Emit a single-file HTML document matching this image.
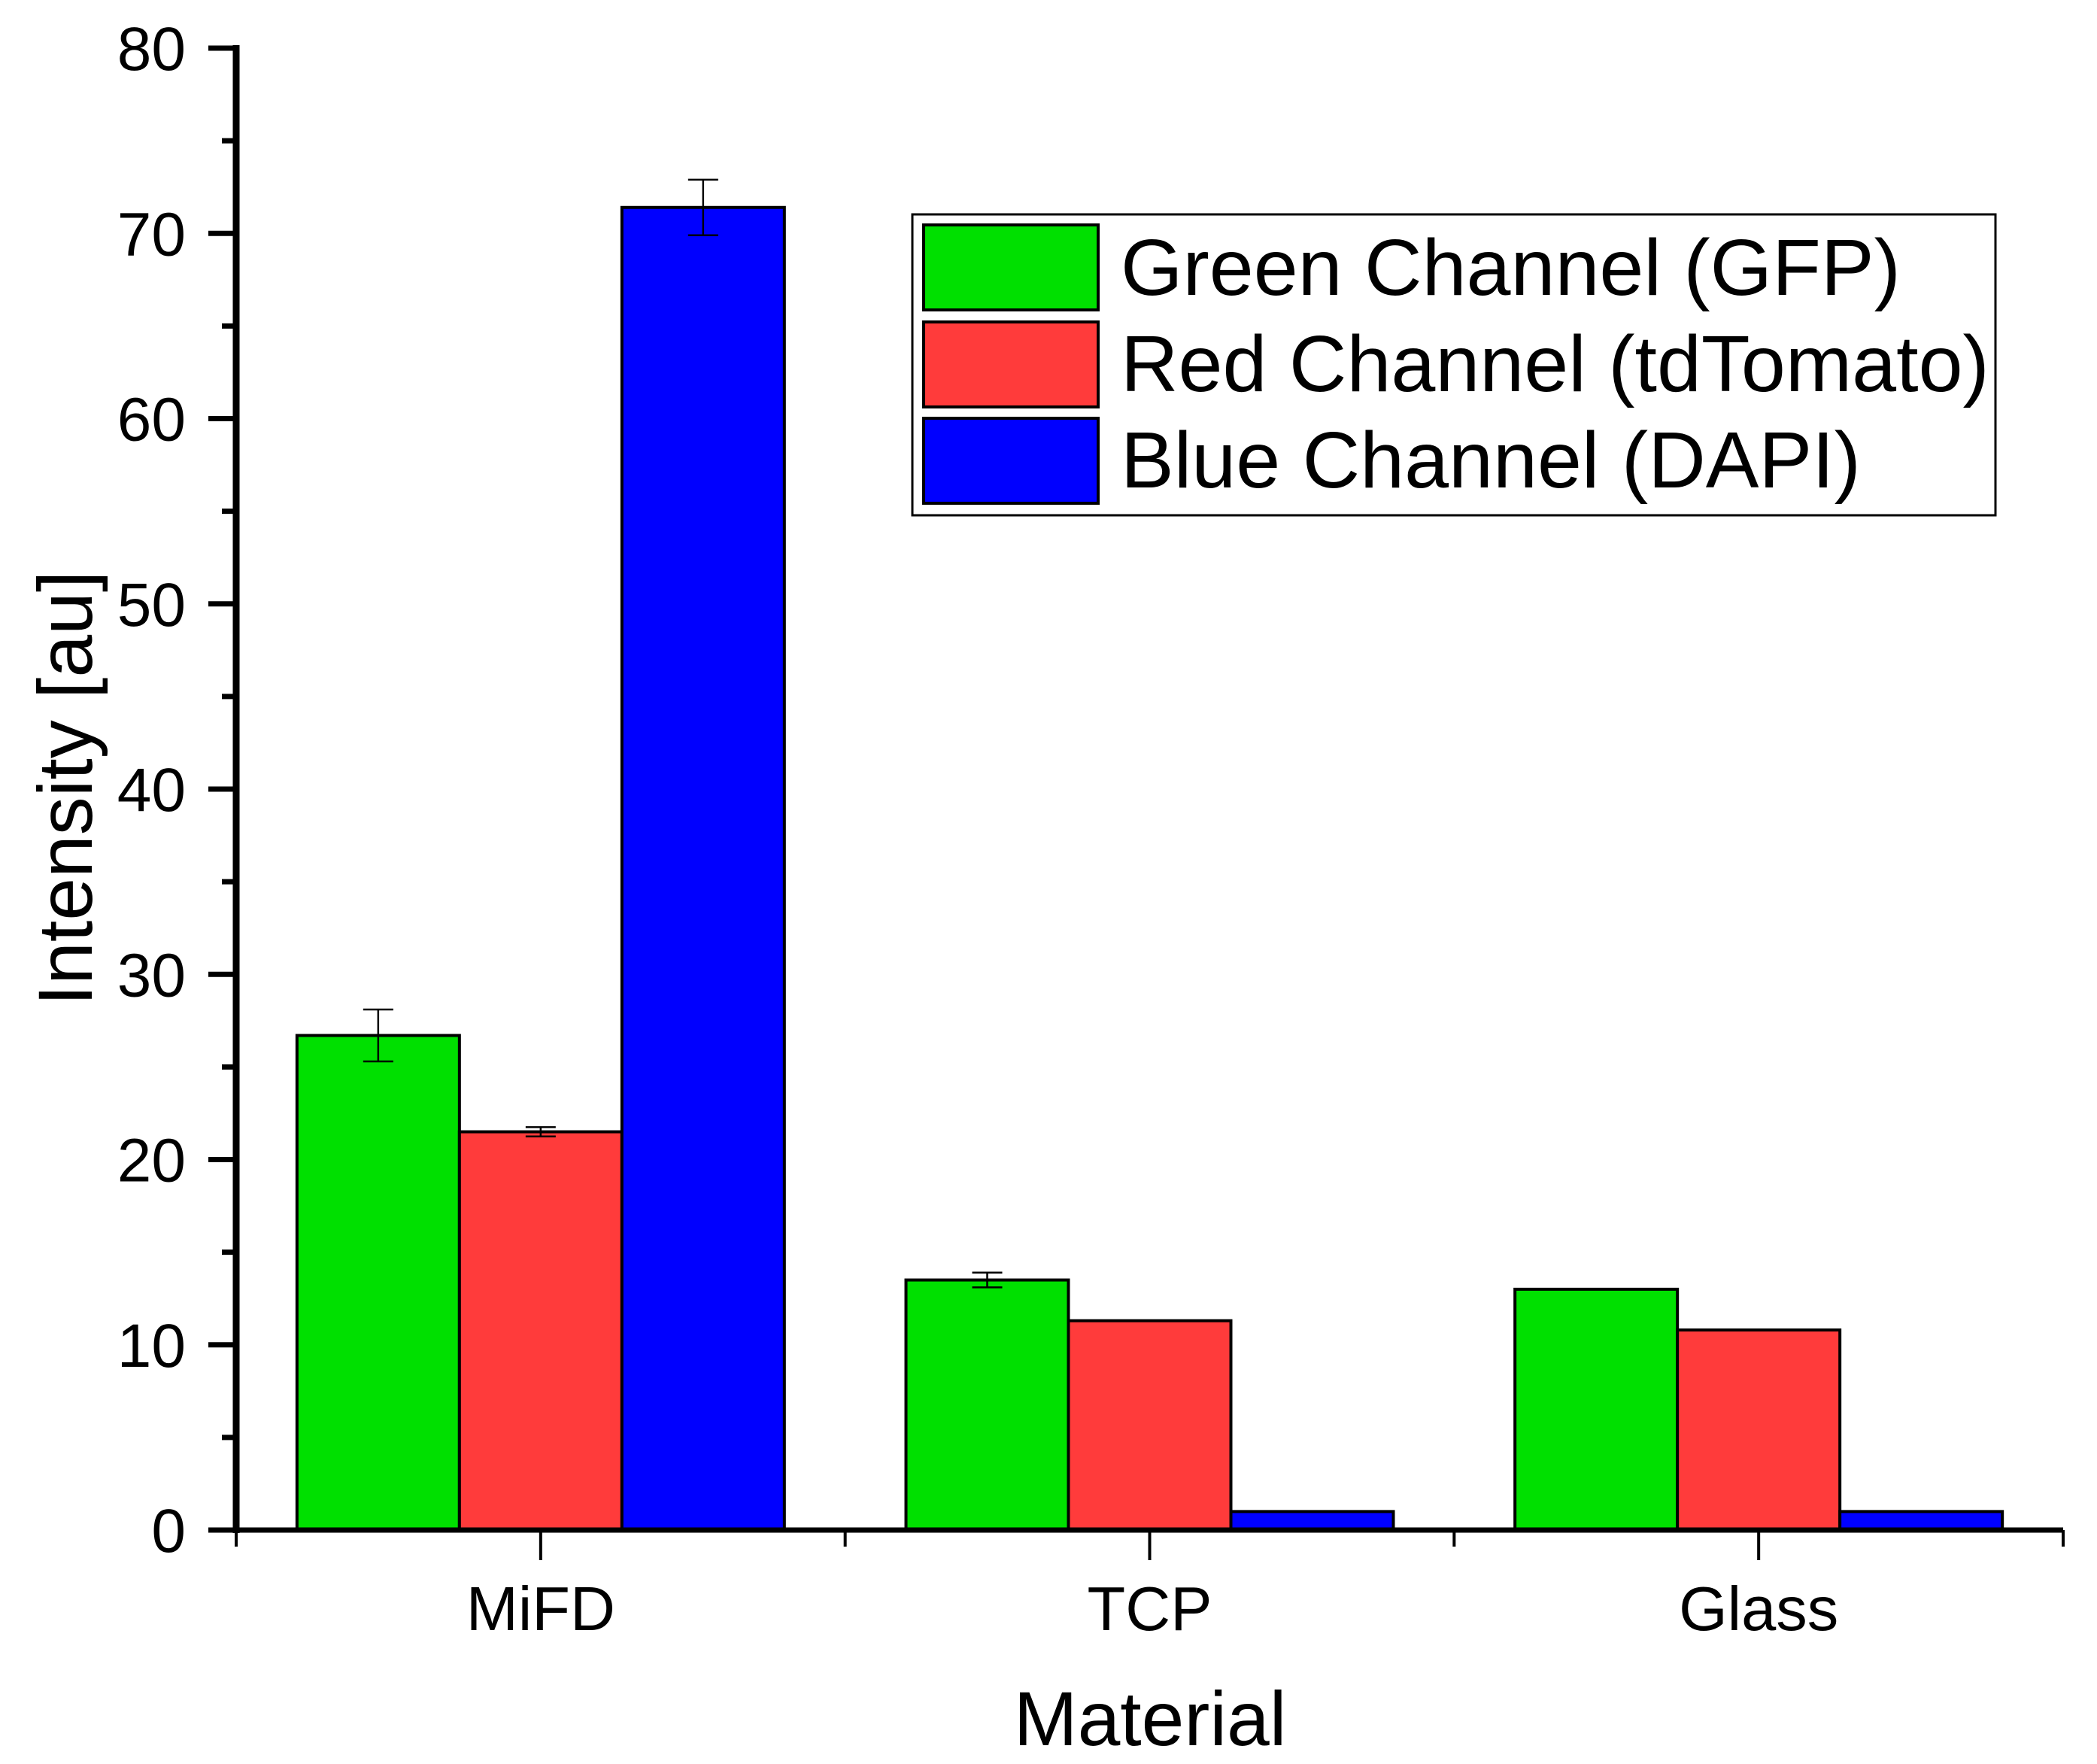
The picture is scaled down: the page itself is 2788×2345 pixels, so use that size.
<!DOCTYPE html>
<html><head><meta charset="utf-8"><style>
html,body{margin:0;padding:0;background:#fff;}
svg{display:block;font-family:"Liberation Sans",Arial,sans-serif;}
</style></head><body>
<svg id="chart" width="2788" height="2345" viewBox="0 0 2788 2345" xmlns="http://www.w3.org/2000/svg">
<g id="bars"></g>
<g id="axes"></g>
<text x="1529" y="2320" font-size="102" text-anchor="middle">Material</text>
<text transform="translate(122,1048) rotate(-90)" font-size="102" text-anchor="middle">Intensity [au]</text>
<g>
<rect x="1213" y="285" width="1440" height="400" fill="#fff" stroke="#000" stroke-width="3"/>
<rect x="1228" y="299" width="232" height="113" fill="#00e000" stroke="#000" stroke-width="4"/>
<rect x="1228" y="428" width="232" height="113" fill="#ff3b3b" stroke="#000" stroke-width="4"/>
<rect x="1228" y="556" width="232" height="113" fill="#0000ff" stroke="#000" stroke-width="4"/>
<text x="1490" y="392" font-size="106">Green Channel (GFP)</text>
<text x="1490" y="520" font-size="106">Red Channel (tdTomato)</text>
<text x="1490" y="648" font-size="106">Blue Channel (DAPI)</text>
</g>
</svg>
<script>
const categories = ["MiFD", "TCP", "Glass"];
const greenVals = [26.7, 13.5, 13.0];
const redVals = [21.5, 11.3, 10.8];
const blueVals = [71.4, 1.0, 1.0];
const greenErr = [1.4, 0.4, 0];
const redErr = [0.25, 0, 0];
const blueErr = [1.5, 0, 0];
const yTicks = [0, 10, 20, 30, 40, 50, 60, 70, 80];

const NS = "http://www.w3.org/2000/svg";
const Y0 = 2034, Y80 = 64, AX = 314, AXR = 2743;
function y(v){ return Y0 - (v/80)*(Y0 - Y80); }
const groupW = (AXR - AX)/3;
function xc(i){ return AX + groupW*(i+0.5); }
const bw = 216;
function mk(tag, attrs, parent){ const e=document.createElementNS(NS,tag); for(const k in attrs) e.setAttribute(k, attrs[k]); parent.appendChild(e); return e; }
const bars = document.getElementById('bars');
const axes = document.getElementById('axes');
const series = [[greenVals, greenErr, "#00e000", "green"], [redVals, redErr, "#ff3b3b", "red"], [blueVals, blueErr, "#0000ff", "blue"]];
categories.forEach((c, i) => {
  series.forEach((s, j) => {
    const v = s[0][i], x0 = xc(i) + (j - 1.5)*bw;
    const r = mk('rect', {x: x0, y: y(v), width: bw, height: y(0)-y(v), fill: s[2], stroke: "#000", "stroke-width": 4}, bars);
    
    
    const e = s[1][i];
    if (e > 0) {
      const cx = x0 + bw/2;
      const g = mk('g', {stroke: "#000", "stroke-width": 2.5}, bars);
      
      
      mk('line', {x1: cx, x2: cx, y1: y(v+e), y2: y(v-e)}, g);
      mk('line', {x1: cx-20, x2: cx+20, y1: y(v+e), y2: y(v+e)}, g);
      mk('line', {x1: cx-20, x2: cx+20, y1: y(v-e), y2: y(v-e)}, g);
    }
  });
});
// y axis
mk('line', {x1: AX, x2: AX, y1: Y80-4, y2: Y0+4, stroke: "#000", "stroke-width": 9}, axes);
for (let t = 0; t <= 80; t += 5) {
  const major = t % 10 === 0;
  mk('line', {x1: AX - (major ? 37 : 19), x2: AX, y1: y(t), y2: y(t), stroke: "#000", "stroke-width": 7}, axes);
}
yTicks.forEach(t => {
  const tx = mk('text', {x: 247, y: y(t) + 29, "font-size": 82, "text-anchor": "end"}, axes);
  tx.textContent = t;
  
  
});
// x axis
mk('line', {x1: AX - 4, x2: AXR, y1: Y0, y2: Y0, stroke: "#000", "stroke-width": 7}, axes);
for (let k = 0; k <= 3; k++) {
  mk('line', {x1: AX + groupW*k, x2: AX + groupW*k, y1: Y0, y2: Y0 + 22, stroke: "#000", "stroke-width": 4}, axes);
}
categories.forEach((c, i) => {
  mk('line', {x1: xc(i), x2: xc(i), y1: Y0, y2: Y0 + 40, stroke: "#000", "stroke-width": 4}, axes);
  const tx = mk('text', {x: xc(i), y: 2167, "font-size": 83, "text-anchor": "middle"}, axes);
  tx.textContent = c;
  
  
});
</script>
</body></html>
